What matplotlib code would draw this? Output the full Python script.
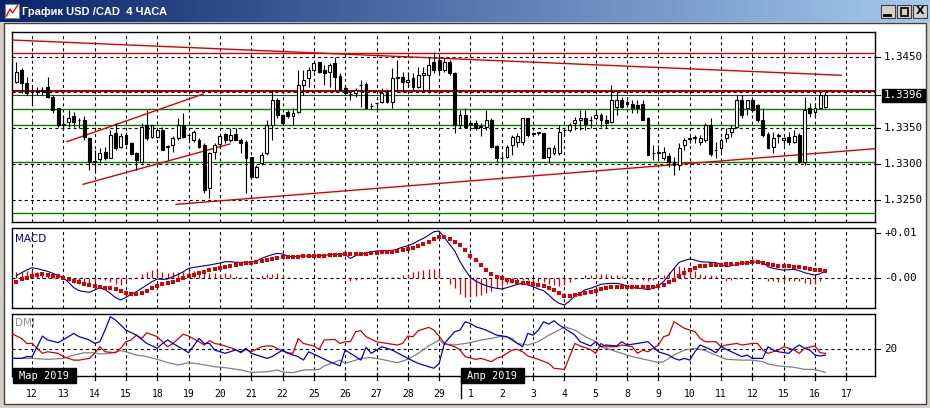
import numpy as np
import matplotlib
matplotlib.use("Agg")
import matplotlib.pyplot as plt
from matplotlib.colors import LinearSegmentedColormap
from matplotlib.patches import Rectangle

plt.rcParams["lines.scale_dashes"] = False

# USD/CAD 4h candles, first bar sits 3 bars before Mar 12 00:00
opens = [1.3415, 1.3431, 1.3413, 1.3400, 1.3401, 1.3402, 1.3407, 1.3394, 1.3378, 1.3355,
         1.3359, 1.3367, 1.3362, 1.3362, 1.3337, 1.3303, 1.3307, 1.3317, 1.3309, 1.3343,
         1.3324, 1.3341, 1.3329, 1.3316, 1.3303, 1.3355, 1.3338, 1.3338, 1.3348, 1.3324,
         1.3327, 1.3336, 1.3355, 1.3340, 1.3333, 1.3334, 1.3327, 1.3266, 1.3317, 1.3328,
         1.3342, 1.3334, 1.3342, 1.3334, 1.3331, 1.3310, 1.3282, 1.3301, 1.3315, 1.3355,
         1.3390, 1.3369, 1.3373, 1.3367, 1.3373, 1.3410, 1.3420, 1.3432, 1.3442, 1.3431,
         1.3428, 1.3441, 1.3423, 1.3406, 1.3398, 1.3399, 1.3410, 1.3412, 1.3381, 1.3385,
         1.3387, 1.3401, 1.3387, 1.3420, 1.3421, 1.3415, 1.3420, 1.3408, 1.3424, 1.3424,
         1.3442, 1.3445, 1.3432, 1.3443, 1.3427, 1.3355, 1.3369, 1.3356, 1.3358, 1.3352,
         1.3352, 1.3362, 1.3325, 1.3308, 1.3310, 1.3327, 1.3331, 1.3331, 1.3364, 1.3343,
         1.3344, 1.3343, 1.3310, 1.3315, 1.3315, 1.3347, 1.3348, 1.3357, 1.3362, 1.3364,
         1.3361, 1.3364, 1.3369, 1.3362, 1.3359, 1.3380, 1.3390, 1.3387, 1.3384, 1.3382,
         1.3384, 1.3365, 1.3315, 1.3316, 1.3308, 1.3311, 1.3303, 1.3299, 1.3327, 1.3335,
         1.3337, 1.3331, 1.3333, 1.3355, 1.3319, 1.3322, 1.3336, 1.3345, 1.3352, 1.3390,
         1.3379, 1.3389, 1.3382, 1.3362, 1.3342, 1.3324, 1.3339, 1.3333, 1.3338, 1.3331,
         1.3341, 1.3303, 1.3378, 1.3373, 1.3379, 1.3380]
highs = [1.3443, 1.3434, 1.3422, 1.3407, 1.3407, 1.3408, 1.3422, 1.3396, 1.3378, 1.3369,
         1.3376, 1.3373, 1.3364, 1.3367, 1.3338, 1.3320, 1.3322, 1.3324, 1.3348, 1.3358,
         1.3343, 1.3345, 1.3331, 1.3317, 1.3357, 1.3376, 1.3355, 1.3350, 1.3352, 1.3327,
         1.3339, 1.3365, 1.3371, 1.3343, 1.3348, 1.3336, 1.3329, 1.3317, 1.3330, 1.3341,
         1.3343, 1.3350, 1.3350, 1.3337, 1.3334, 1.3310, 1.3299, 1.3317, 1.3362, 1.3403,
         1.3392, 1.3370, 1.3376, 1.3378, 1.3431, 1.3431, 1.3436, 1.3443, 1.3443, 1.3438,
         1.3441, 1.3450, 1.3427, 1.3410, 1.3401, 1.3406, 1.3417, 1.3414, 1.3385, 1.3387,
         1.3406, 1.3403, 1.3434, 1.3445, 1.3429, 1.3429, 1.3427, 1.3435, 1.3435, 1.3450,
         1.3457, 1.3450, 1.3448, 1.3445, 1.3429, 1.3376, 1.3378, 1.3362, 1.3362, 1.3357,
         1.3376, 1.3364, 1.3327, 1.3313, 1.3327, 1.3341, 1.3343, 1.3365, 1.3365, 1.3345,
         1.3345, 1.3344, 1.3324, 1.3327, 1.3355, 1.3350, 1.3357, 1.3366, 1.3376, 1.3376,
         1.3367, 1.3376, 1.3371, 1.3369, 1.3410, 1.3401, 1.3394, 1.3389, 1.3390, 1.3389,
         1.3389, 1.3366, 1.3327, 1.3327, 1.3324, 1.3315, 1.3310, 1.3329, 1.3337, 1.3339,
         1.3341, 1.3341, 1.3357, 1.3364, 1.3331, 1.3337, 1.3351, 1.3355, 1.3396, 1.3396,
         1.3389, 1.3392, 1.3384, 1.3379, 1.3345, 1.3345, 1.3343, 1.3338, 1.3345, 1.3348,
         1.3343, 1.3394, 1.3386, 1.3386, 1.3401, 1.3401]
lows = [1.3413, 1.3399, 1.3396, 1.3382, 1.3396, 1.3396, 1.3392, 1.3371, 1.3352, 1.3350,
        1.3352, 1.3352, 1.3350, 1.3334, 1.3292, 1.3289, 1.3303, 1.3306, 1.3308, 1.3320,
        1.3322, 1.3327, 1.3313, 1.3292, 1.3301, 1.3334, 1.3336, 1.3336, 1.3320, 1.3306,
        1.3317, 1.3334, 1.3336, 1.3334, 1.3331, 1.3322, 1.3259, 1.3252, 1.3307, 1.3322,
        1.3329, 1.3331, 1.3334, 1.3315, 1.3259, 1.3280, 1.3280, 1.3299, 1.3313, 1.3334,
        1.3365, 1.3355, 1.3365, 1.3355, 1.3371, 1.3396, 1.3407, 1.3429, 1.3427, 1.3410,
        1.3408, 1.3403, 1.3403, 1.3396, 1.3389, 1.3394, 1.3380, 1.3378, 1.3377, 1.3376,
        1.3385, 1.3385, 1.3378, 1.3401, 1.3401, 1.3408, 1.3403, 1.3406, 1.3401, 1.3399,
        1.3427, 1.3427, 1.3429, 1.3424, 1.3343, 1.3350, 1.3352, 1.3348, 1.3348, 1.3339,
        1.3348, 1.3322, 1.3303, 1.3303, 1.3308, 1.3313, 1.3324, 1.3327, 1.3338, 1.3341,
        1.3341, 1.3308, 1.3301, 1.3313, 1.3313, 1.3341, 1.3345, 1.3348, 1.3348, 1.3348,
        1.3350, 1.3362, 1.3352, 1.3350, 1.3357, 1.3369, 1.3379, 1.3380, 1.3371, 1.3372,
        1.3362, 1.3312, 1.3305, 1.3308, 1.3306, 1.3296, 1.3285, 1.3292, 1.3320, 1.3329,
        1.3329, 1.3327, 1.3331, 1.3311, 1.3308, 1.3317, 1.3331, 1.3338, 1.3350, 1.3365,
        1.3369, 1.3373, 1.3359, 1.3338, 1.3322, 1.3315, 1.3329, 1.3327, 1.3327, 1.3329,
        1.3302, 1.3299, 1.3366, 1.3366, 1.3378, 1.3379]
closes = [1.3429, 1.3413, 1.3399, 1.3401, 1.3402, 1.3403, 1.3394, 1.3376, 1.3355, 1.3356,
          1.3365, 1.3359, 1.3361, 1.3338, 1.3303, 1.3304, 1.3315, 1.3308, 1.3341, 1.3322,
          1.3339, 1.3328, 1.3314, 1.3306, 1.3352, 1.3336, 1.3354, 1.3348, 1.3320, 1.3325,
          1.3336, 1.3355, 1.3338, 1.3341, 1.3345, 1.3324, 1.3264, 1.3315, 1.3327, 1.3339,
          1.3334, 1.3341, 1.3334, 1.3329, 1.3308, 1.3282, 1.3296, 1.3313, 1.3355, 1.3389,
          1.3369, 1.3357, 1.3367, 1.3371, 1.3410, 1.3417, 1.3431, 1.3441, 1.3428, 1.3427,
          1.3438, 1.3422, 1.3404, 1.3399, 1.3398, 1.3404, 1.3411, 1.3379, 1.3381, 1.3386,
          1.3399, 1.3387, 1.3420, 1.3422, 1.3415, 1.3418, 1.3407, 1.3424, 1.3427, 1.3438,
          1.3431, 1.3431, 1.3442, 1.3427, 1.3355, 1.3369, 1.3352, 1.3357, 1.3350, 1.3353,
          1.3361, 1.3324, 1.3308, 1.3309, 1.3324, 1.3338, 1.3339, 1.3364, 1.3341, 1.3342,
          1.3344, 1.3309, 1.3322, 1.3323, 1.3345, 1.3348, 1.3354, 1.3362, 1.3364, 1.3356,
          1.3362, 1.3369, 1.3361, 1.3357, 1.3389, 1.3389, 1.3380, 1.3384, 1.3379, 1.3379,
          1.3362, 1.3313, 1.3316, 1.3317, 1.3317, 1.3303, 1.3299, 1.3323, 1.3333, 1.3336,
          1.3338, 1.3337, 1.3355, 1.3314, 1.3320, 1.3334, 1.3342, 1.3351, 1.3389, 1.3369,
          1.3389, 1.3376, 1.3362, 1.3341, 1.3323, 1.3336, 1.3340, 1.3337, 1.3331, 1.3339,
          1.3303, 1.3376, 1.3372, 1.3379, 1.3396, 1.3396]

# MACD panel, values in units of 0.0001
macd_main = [5.9, 12.6, 18.5, 23.7, 21.5, 18.5, 15.6, 11.1, 5.9, 1.5,
             -8.9, -20.7, -27.4, -29.6, -31.1, -25.9, -20.7, -25.2, -33.3, -43,
             -48.1, -42.2, -35.6, -29.6, -22.2, -14.8, -7.4, -1.5, -2.2, -1.5,
             3.7, 8.9, 14.8, 22.2, 24.4, 25.9, 28.1, 29.6, 31.9, 34.1,
             37, 37, 35.6, 35.6, 35.6, 35.6, 38.5, 44.4, 48.9, 52.6,
             55.6, 54.1, 48.9, 48.1, 49.6, 49.6, 49.6, 49.6, 50.4, 51.1,
             52.6, 53.3, 54.1, 53.3, 44.4, 50.4, 53.3, 56.3, 59.3, 60.7,
             61.5, 61.5, 62.2, 65.2, 69.6, 72.6, 77, 83.7, 88.9, 96.3,
             103.7, 105.2, 91.1, 75.6, 60.7, 37, 18.5, 1.5, -5.9, -11.9,
             -16.3, -20, -22.2, -23.7, -20.7, -17, -13.3, -11.1, -14.8, -18.5,
             -23.7, -27.4, -37, -48.1, -55.6, -59.3, -50.4, -39.3, -33.3, -25.2,
             -22.2, -17.8, -13.3, -11.9, -11.1, -11.1, -13.3, -17.8, -20, -21.5,
             -23, -25.2, -22.2, -16.3, -7.4, 7.4, 22.2, 35.6, 40, 43,
             40.7, 37, 36.3, 35.6, 34.8, 31.1, 25.9, 28.1, 31.1, 33.3,
             34.8, 35.6, 37, 35.6, 25.9, 22.2, 20, 18.5, 19.3, 20,
             17, 12.6, 9.6, 7.4, 10.4, 16.3]
macd_signal = [-7.4, -2.2, 1.5, 5.2, 8.1, 8.9, 8.1, 5.9, 4.4, 1.5,
               -1.5, -5.2, -8.9, -11.9, -14.8, -17, -19.3, -20.7, -22.2, -24.4,
               -27.4, -31.9, -34.8, -34.1, -31.9, -27.4, -22.2, -16.3, -13.3, -11.1,
               -8.9, -3.7, 1.5, 4.4, 7.4, 11.1, 14.8, 17.8, 20, 23.7,
               25.9, 28.1, 30.4, 31.9, 33.3, 34.8, 36.3, 37.8, 40, 42.2,
               44.4, 46.7, 47.4, 48.1, 48.1, 48.9, 48.9, 49.6, 50.4, 50.4,
               51.1, 51.9, 52.6, 53.3, 53.3, 54.1, 54.1, 54.8, 56.3, 57,
               57.8, 57.8, 59.3, 60.7, 62.2, 65.2, 68.1, 71.9, 76.3, 81.5,
               87.4, 91.1, 91.1, 88.1, 81.5, 74.1, 62.2, 50.4, 40, 29.6,
               18.5, 10.4, 3.7, 1.5, -3.7, -6.7, -8.1, -9.6, -10.4, -11.9,
               -14.1, -16.3, -21.5, -26.7, -32.6, -38.5, -39.3, -37, -34.8, -32.6,
               -29.6, -27.4, -23.7, -21.5, -20, -18.5, -18.5, -18.5, -19.3, -20,
               -20, -19.3, -18.5, -16.3, -14.8, -8.9, -3, 5.9, 12.6, 19.3,
               23, 26.7, 28.1, 28.9, 29.6, 30.4, 31.1, 31.1, 31.9, 33.3,
               34.8, 36.3, 37, 34.1, 31.1, 29.6, 28.1, 27.4, 26.7, 25.9,
               24.4, 23, 21.5, 19.3, 17.8, 16.3]
macd_hist = [13, 15, 17, 18, 13, 10, 7, 5, 2, 0,
             -6, -11, -13, -13, -12, -7, -1, -4, -8, -13,
             -15, -8, -1, 4, 10, 15, 18, 18, 14, 12,
             13, 13, 13, 17, 16, 14, 13, 12, 12, 10,
             11, 9, 5, 4, 2, 1, 2, 7, 9, 10,
             11, 7, 2, 0, 1, 1, 1, 0, 0, 1,
             1, 1, 1, 0, -7, -3, -1, 1, 3, 4,
             4, 4, 3, 4, 8, 10, 13, 16, 18, 20,
             20, 16, 0, -13, -21, -35, -42, -42, -40, -38,
             -33, -28, -22, -18, -13, -10, -6, -3, -4, -6,
             -8, -9, -12, -15, -17, -15, -9, -2, 1, 7,
             7, 9, 9, 9, 8, 7, 5, 1, -1, -2,
             -3, -5, -4, 0, 7, 14, 22, 28, 26, 22,
             17, 10, 8, 7, 5, 1, -5, -3, -1, 0,
             0, -1, 0, 1, -5, -7, -8, -9, -7, -6,
             -7, -10, -12, -12, -7, 0]

# DMI panel (bar index, value)
dmi_red_x = [-4, -2, -1, 0, 1, 2, 3, 5, 6, 8, 9, 11, 12, 13, 14, 16, 17, 18, 19, 20,
             21, 22, 24, 25, 26, 27, 29, 30, 32, 33, 34, 35, 36, 37, 39, 40, 41, 42, 44, 45,
             46, 48, 49, 50, 51, 52, 54, 55, 56, 58, 59, 60, 61, 62, 63, 64, 66, 68, 70, 71,
             72, 73, 74, 76, 77, 78, 79, 81, 82, 83, 85, 86, 88, 89, 90, 92, 93, 94, 95, 97,
             99, 100, 102, 103, 104, 105, 107, 108, 109, 110, 112, 113, 115, 116, 117, 118,
             120, 121, 122, 123, 124, 125, 127, 128, 129, 131, 132, 133, 135, 136, 138, 139,
             140, 141, 143, 144, 145, 146, 147, 148, 150, 151, 152]
dmi_red_y = [28.0, 25.4, 22.8, 22.8, 20.3, 17.7, 18.5, 17.7, 16.0, 14.2, 14.2, 15.1, 17.7, 21.1,
             18.5, 18.0, 20.3, 23.7, 24.6, 27.1, 25.4, 28.3, 26.3, 23.7, 21.1, 22.8, 27.6, 26.6,
             23.7, 22.0, 24.2, 22.8, 22.3, 21.5, 19.7, 18.0, 19.7, 18.5, 21.1, 21.5, 21.5, 18.9,
             18.0, 17.7, 25.4, 22.8, 21.5, 19.7, 24.6, 24.9, 22.8, 23.7, 23.7, 28.9, 29.4, 26.3,
             23.7, 22.8, 22.0, 22.8, 26.6, 26.3, 29.4, 31.1, 29.7, 26.6, 22.8, 21.1, 19.4, 16.0,
             14.6, 15.1, 13.4, 15.1, 16.0, 19.4, 19.7, 18.5, 16.3, 14.6, 12.5, 10.0, 9.4, 16.0,
             22.8, 21.5, 19.7, 17.7, 22.8, 21.1, 21.1, 22.0, 21.1, 17.7, 19.4, 18.5, 22.0, 26.3,
             27.1, 34.0, 32.3, 30.6, 28.9, 25.4, 23.7, 23.7, 21.1, 22.0, 22.8, 22.0, 22.8, 22.8,
             19.4, 17.7, 19.4, 21.1, 20.3, 19.4, 17.7, 20.3, 21.5, 18.0, 17.7]
dmi_blue_x = [-4, -2, -1, 0, 1, 2, 3, 5, 7, 8, 9, 11, 12, 13, 14, 15, 16, 18, 20, 22,
              24, 25, 26, 27, 29, 30, 32, 33, 34, 35, 37, 39, 40, 41, 42, 44, 45, 46, 48, 49,
              51, 52, 53, 55, 57, 59, 60, 62, 63, 64, 65, 67, 68, 69, 72, 74, 76, 77, 78, 79,
              81, 82, 83, 84, 85, 86, 87, 89, 91, 93, 94, 95, 96, 97, 98, 99, 100, 101, 102, 104,
              105, 107, 108, 109, 110, 112, 113, 114, 116, 118, 119, 120, 122, 123, 124, 125,
              126, 127, 128, 130, 131, 132, 134, 136, 137, 138, 140, 141, 142, 143,
              145, 146, 147, 148, 149, 150, 151, 152]
dmi_blue_y = [15.1, 15.1, 16.0, 16.0, 21.1, 26.6, 24.6, 23.2, 26.3, 28.0,
              26.3, 24.6, 22.8, 23.7, 29.7, 36.6, 34.9, 29.7, 27.1, 22.8,
              20.3, 22.8, 24.6, 22.8, 19.7, 18.0, 25.4, 22.8, 22.8, 19.4,
              17.7, 19.4, 18.5, 20.3, 17.7, 16.0, 15.1, 16.0, 19.4, 17.7,
              16.0, 14.2, 18.5, 16.0, 13.4, 11.2, 19.4, 16.0, 14.2, 20.8,
              17.7, 21.1, 20.3, 19.4, 15.1, 12.5, 10.8, 10.0, 12.5, 22.8,
              28.9, 29.7, 34.0, 33.1, 31.4, 30.6, 29.7, 27.1, 26.3, 22.8,
              21.1, 28.0, 27.1, 29.7, 34.0, 32.8, 34.5, 32.3, 30.6, 27.1,
              23.7, 21.5, 23.7, 21.1, 22.0, 21.5, 23.7, 22.0, 22.8, 23.7,
              21.1, 18.5, 16.8, 15.1, 14.2, 15.1, 14.2, 18.5, 22.0, 19.7,
              18.0, 21.1, 18.5, 16.0, 16.8, 15.1, 15.1, 21.1, 19.4, 18.5,
              17.7, 20.3, 22.0, 20.3, 19.4, 16.8, 16.3, 16.8]
adx_x = [-4, -2, 0, 3, 6, 8, 10, 12, 13, 15, 17, 18, 20, 22, 24, 26, 28, 30, 32, 35,
         37, 40, 42, 45, 47, 48, 50, 52, 55, 56, 59, 60, 62, 63, 65, 67, 69, 70, 72, 74,
         76, 78, 79, 81, 84, 86, 88, 90, 92, 93, 95, 97, 99, 101, 102, 104, 106, 108, 109, 111,
         113, 115, 118, 120, 121, 123, 125, 127, 129, 131, 133, 136, 138, 140, 141, 143, 146, 148, 150, 152]
adx_y = [15.1, 15.1, 15.1, 14.6, 15.1, 16.8, 18.0, 18.0, 17.3, 17.7,
         19.1, 18.5, 16.8, 16.0, 14.6, 12.9, 11.7, 12.9, 12.2, 10.8,
         10.3, 9.1, 7.9, 8.2, 9.1, 8.1, 7.7, 9.1, 9.4, 11.2,
         14.2, 12.5, 14.2, 15.1, 15.5, 14.6, 13.4, 12.9, 14.6, 17.7,
         21.5, 24.6, 22.5, 22.0, 23.2, 24.6, 25.4, 26.6, 25.4, 22.8,
         22.0, 23.7, 27.1, 29.7, 31.4, 29.7, 26.3, 23.7, 21.1, 19.4,
         17.7, 16.0, 14.2, 12.9, 13.4, 16.8, 19.4, 20.3, 19.1, 16.8,
         14.6, 14.2, 14.2, 13.4, 12.2, 11.2, 10.5, 9.4, 9.4, 7.9]

day_labels = ["12", "13", "14", "15", "18", "19", "20", "21", "22", "25", "26", "27", "28", "29",
              "1", "2", "3", "4", "5", "8", "9", "10", "11", "12", "15", "16", "17"]
price_ticks = [1.3450, 1.3350, 1.3300, 1.3250]
grid_prices = [1.3450, 1.3400, 1.3350, 1.3300, 1.3250]
last_price = 1.3396
red_levels = [1.3455]
maroon_levels = [1.3402]
green_levels = [1.3377, 1.3355, 1.3303, 1.3232]
# trend lines: (bar0, price0, bar1, price1)
trend_lines = [(-3.83, 1.34734, 155.0, 1.34241),
               (27.6, 1.32436, 161.5, 1.33214),
               (6.7, 1.33312, 32.8, 1.33979),
               (9.8, 1.32716, 37.9, 1.33280)]

W, H = 930, 408
XMIN, XMAX = -3.83, 161.5
DASH = (0, (2.2, 2.2))
RED = "#d80000"
MONO = "DejaVu Sans Mono"


def px_box(x0, y0, x1, y1):
    return [x0 / W, 1 - y1 / H, (x1 - x0) / W, (y1 - y0) / H]


fig = plt.figure(figsize=(W / 100, H / 100), dpi=100)
fig.patch.set_facecolor("#d4d0c8")
fig.add_artist(Rectangle((4 / W, 1 - 404 / H), 922 / W, 381 / H, transform=fig.transFigure,
                         facecolor="white", edgecolor="#404040", lw=1, zorder=-5))

# window title bar
tb = fig.add_axes(px_box(0, 0, 930, 22))
tb.imshow(np.linspace(0, 1, 256).reshape(1, -1), aspect="auto", extent=(0, 930, 22, 0),
          cmap=LinearSegmentedColormap.from_list("tb", ["#0a246a", "#a6caf0"]))
tb.set_xlim(0, 930)
tb.set_ylim(22, 0)
tb.axis("off")
tb.add_patch(Rectangle((5, 4), 14, 14, facecolor="white", edgecolor="#808080", lw=0.8))
tb.plot([6.5, 10, 12.5, 17.5], [16, 9, 13, 5.5], color="red", lw=1)
tb.text(22, 12, "График USD /CAD  4 ЧАСА", color="white", fontsize=8, fontweight="bold",
        family="Liberation Sans", va="center", ha="left")
for bx in (881, 897, 913):
    tb.add_patch(Rectangle((bx, 5), 14, 13, facecolor="#d4d0c8", edgecolor="#404040", lw=0.8))
tb.plot([884, 890], [15, 15], color="black", lw=2)
tb.add_patch(Rectangle((900.5, 7.5), 7, 8, facecolor="none", edgecolor="black", lw=1.2))
tb.text(920, 11.5, "X", color="black", fontsize=8, fontweight="bold", ha="center", va="center")


def panel(y0, y1):
    ax = fig.add_axes(px_box(12, y0, 875, y1))
    ax.set_facecolor("white")
    ax.set_xlim(XMIN, XMAX)
    ax.set_xticks([])
    ax.set_yticks([])
    for s in ax.spines.values():
        s.set_color("black")
        s.set_linewidth(1)
    for d in range(len(day_labels)):
        ax.axvline(d * 6, color="black", lw=0.8, ls=DASH, zorder=1)
    return ax


def right_label(ax, value, text, **kw):
    ytr = ax.get_yaxis_transform()
    ax.plot([1.0, 1.0055], [value, value], transform=ytr, color="black", lw=0.8,
            clip_on=False)
    ax.text(1.0105, value, text, transform=ytr, fontsize=7.8, family=MONO, va="center",
            ha="left", clip_on=False, **kw)


bars = np.arange(len(closes)) - 3

# price panel
ax1 = panel(32, 222)
ax1.set_ylim(1.32189, 1.34846)
for p in grid_prices:
    ax1.axhline(p, color="black", lw=0.8, ls=DASH, zorder=1)
for p in red_levels:
    ax1.axhline(p, color=RED, lw=1, zorder=2)
for p in maroon_levels:
    ax1.axhline(p, color="#a00010", lw=1.5, zorder=2)
for p in green_levels:
    ax1.axhline(p, color="#008000", lw=1, zorder=2)
ax1.axhline(last_price, color="#404040", lw=0.8, zorder=2)
for b0, p0, b1, p1 in trend_lines:
    ax1.plot([b0, b1], [p0, p1], color=RED, lw=1, zorder=2)

o = np.array(opens)
c = np.array(closes)
ax1.vlines(bars, lows, highs, color="black", lw=0.8, zorder=3)
body = np.maximum(np.abs(c - o), 0.00003)
ax1.bar(bars, body, 0.55, np.minimum(o, c), color=np.where(c >= o, "white", "black"),
        edgecolor="black", lw=0.8, zorder=4)

for p in price_ticks:
    right_label(ax1, p, f"{p:.4f}")
right_label(ax1, last_price, f"{last_price:.4f}", color="white",
            bbox=dict(facecolor="black", edgecolor="black", pad=1.2))

# MACD panel
ax2 = panel(228, 308)
ax2.set_ylim(-66, 112)
ax2.axhline(0, color="black", lw=0.8, ls=DASH, zorder=1)
ax2.vlines(bars, 0, macd_hist, color=RED, lw=0.9, zorder=2)
ax2.plot(bars, macd_main, color="#000080", lw=0.8, zorder=3)
ax2.plot(bars, macd_signal, "s", color=RED, ms=2.3, mew=0, zorder=4)
ax2.text(0.003, 0.93, "MACD", transform=ax2.transAxes, color="#000080", fontsize=7.5,
         va="top", ha="left")
right_label(ax2, 100, "+0.01")
right_label(ax2, 0, "-0.00")

# DMI panel
ax3 = panel(314, 376)
ax3.set_ylim(6, 38)
ax3.axhline(20, color="black", lw=0.8, ls=DASH, zorder=1)
ax3.plot(adx_x, adx_y, color="#808080", lw=0.9, zorder=2)
ax3.plot(dmi_red_x, dmi_red_y, color="#d00000", lw=0.9, zorder=3)
ax3.plot(dmi_blue_x, dmi_blue_y, color="#0000cc", lw=0.9, zorder=3)
ax3.text(0.003, 0.93, "DMI", transform=ax3.transAxes, color="#909090", fontsize=7.5,
         va="top", ha="left")
right_label(ax3, 20, "20")

# date axis
xtr = ax3.get_xaxis_transform()
for d, lab in enumerate(day_labels):
    ax3.plot([d * 6, d * 6], [0.05, -0.06], transform=xtr, color="black", lw=0.9, clip_on=False)
    ax3.text(d * 6, -0.285, lab, transform=xtr, fontsize=7, family=MONO, ha="center",
             va="center", clip_on=False)
ax3.plot([82.2, 82.2], [0, -0.36], transform=xtr, color="black", lw=1, clip_on=False)
for b0, lab in ((-3.65, "Мар 2019"), (82.2, "Апр 2019")):
    ax3.add_patch(Rectangle((b0, -0.12), 12.0, 0.245, transform=xtr, facecolor="black",
                            edgecolor="black", clip_on=False, zorder=6))
    ax3.text(b0 + 6.0, -0.0, lab, transform=xtr, color="white", fontsize=7.5, family=MONO,
             ha="center", va="center", clip_on=False, zorder=7)

fig.savefig("out.png", dpi=100)
